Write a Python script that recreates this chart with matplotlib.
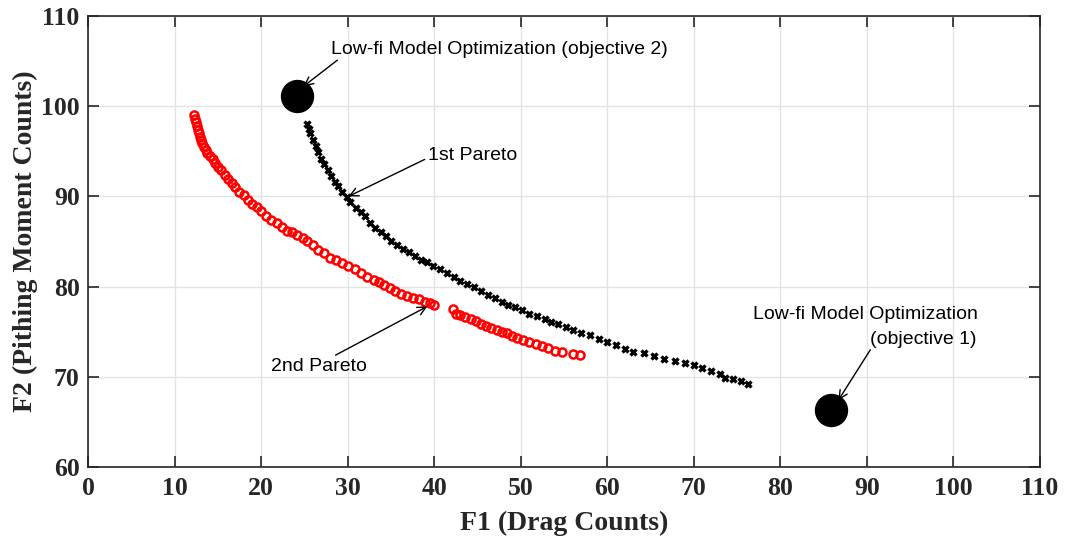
import matplotlib
matplotlib.use("Agg")
import matplotlib.pyplot as plt

# 2nd Pareto front (red circles)
red_f1 = [12.3, 12.4, 12.5, 12.6, 12.7, 12.8, 12.9, 13.0, 13.2, 13.4, 13.6, 13.8,
          14.1, 14.4, 14.7, 15.0, 15.4, 15.8, 16.2, 16.6, 17.0, 17.5, 18.0, 18.5,
          19.0, 19.5, 20.0, 20.6, 21.2, 21.8, 22.4, 23.0, 23.6, 24.2, 24.8, 25.3,
          26.0, 26.6, 27.3, 28.0, 28.7, 29.4, 30.0, 30.8, 31.5, 32.2, 33.0, 33.6,
          34.2, 34.9, 35.5, 36.2, 36.8, 37.5, 38.2, 38.9, 39.5, 40.0,
          42.2, 42.5, 43.0, 43.6, 44.2, 44.8, 45.4, 46.0, 46.6, 47.2, 47.8, 48.4,
          49.0, 49.6, 50.3, 51.0, 51.8, 52.5, 53.2, 54.0, 54.8, 56.0, 56.8]
red_f2 = [99.0, 98.6, 98.2, 97.8, 97.4, 97.0, 96.6, 96.3, 95.9, 95.5, 95.1, 94.8,
          94.5, 94.1, 93.7, 93.3, 92.9, 92.4, 91.9, 91.5, 91.0, 90.5, 90.1, 89.6,
          89.2, 88.8, 88.4, 87.8, 87.4, 87.0, 86.6, 86.2, 86.0, 85.7, 85.4, 85.0,
          84.6, 84.1, 83.7, 83.2, 82.9, 82.6, 82.3, 81.9, 81.5, 81.1, 80.7, 80.5,
          80.2, 79.8, 79.5, 79.2, 79.0, 78.7, 78.6, 78.3, 78.2, 78.0,
          77.5, 77.0, 76.9, 76.6, 76.4, 76.2, 75.9, 75.6, 75.4, 75.2, 75.0, 74.8,
          74.5, 74.3, 74.1, 73.9, 73.6, 73.4, 73.2, 72.9, 72.8, 72.5, 72.4]

# 1st Pareto front (black crosses)
blk_f1 = [25.3, 25.5, 25.7, 26.0, 26.3, 26.6, 26.9, 27.3, 27.7, 28.1, 28.5, 28.9,
          29.4, 29.9, 30.3, 31.0, 31.5, 32.0, 32.6, 33.2, 33.8, 34.4, 35.0, 35.7,
          36.4, 37.1, 37.8, 38.5, 39.2, 39.9, 40.7, 41.5, 42.3, 43.0, 43.8, 44.6,
          45.4, 46.2, 47.0, 47.8, 48.5, 49.3, 50.1, 51.0, 51.9, 52.8, 53.5, 54.3,
          55.2, 56.0, 57.0, 58.0, 59.0, 60.0, 61.0, 62.0, 63.0, 64.2, 65.4, 66.5,
          67.8, 69.0, 70.0, 71.0, 72.0, 73.0, 73.6, 74.5, 75.5, 76.3]
blk_f2 = [98.0, 97.5, 97.0, 96.3, 95.6, 94.9, 94.2, 93.6, 92.9, 92.3, 91.6, 91.1,
          90.5, 89.9, 89.4, 88.7, 88.3, 87.8, 87.1, 86.5, 86.0, 85.6, 85.1, 84.6,
          84.2, 83.8, 83.4, 83.0, 82.7, 82.3, 81.9, 81.5, 81.1, 80.6, 80.3, 79.9,
          79.5, 79.1, 78.7, 78.3, 78.0, 77.7, 77.4, 77.0, 76.7, 76.4, 76.1, 75.8,
          75.5, 75.2, 74.9, 74.6, 74.2, 73.9, 73.5, 73.1, 72.8, 72.6, 72.3, 72.0,
          71.7, 71.5, 71.3, 71.0, 70.6, 70.3, 69.9, 69.8, 69.5, 69.2]

# low-fi single objective optima
lowfi_f1 = [24.1, 85.8]
lowfi_f2 = [101.1, 66.3]

fig = plt.figure(figsize=(10.67, 5.42), dpi=100)
ax = fig.add_axes([0.0825, 0.1384, 0.8922, 0.8321])

ax.plot(red_f1, red_f2, 'o', color='red', mfc='none', ms=5.8, mew=1.8)
ax.plot(blk_f1, blk_f2, 'x', color='black', ms=5, mew=2.4)
ax.plot(lowfi_f1, lowfi_f2, 'o', color='black', ms=23)

ax.set_xlim(0, 110)
ax.set_ylim(60, 110)
ax.set_xticks(range(0, 111, 10))
ax.set_yticks(range(60, 111, 10))
ax.grid(True, color='#e3e3e3', linewidth=1)
ax.set_axisbelow(True)
ax.tick_params(direction='in', length=8, width=1.2, top=True, right=True,
               labelsize=18.5, colors='#262626')
ax.tick_params(axis='x', pad=7)
ax.tick_params(axis='y', pad=6)
for lab in ax.get_xticklabels() + ax.get_yticklabels():
    lab.set_family('Liberation Serif')
    lab.set_weight('bold')
for s in ax.spines.values():
    s.set_color('#262626')
    s.set_linewidth(1.2)

lbl = dict(family='Liberation Serif', weight='bold', size=20, color='#262626')
ax.set_xlabel('F1 (Drag Counts)', labelpad=8, **lbl)
ax.set_ylabel('F2 (Pithing Moment Counts)', labelpad=2, **lbl)

ann = dict(family='Liberation Sans', size=14, color='black', va='center', ha='left')
arr = dict(arrowstyle='->', color='black', lw=1, mutation_scale=15, shrinkA=0, shrinkB=0)
ax.text(28.1, 106.3, 'Low-fi Model Optimization (objective 2)', **ann)
ax.annotate('', xy=(24.9, 102.2), xytext=(28.8, 105.1), arrowprops=arr)
ax.text(39.3, 94.5, '1st Pareto', **ann)
ax.annotate('', xy=(30.1, 90.0), xytext=(38.9, 94.1), arrowprops=arr)
ax.text(21.1, 71.1, '2nd Pareto', **ann)
ax.annotate('', xy=(39.2, 77.8), xytext=(28.6, 72.4), arrowprops=arr)
ax.text(76.8, 76.9, 'Low-fi Model Optimization', **ann)
ax.text(90.4, 74.1, '(objective 1)', **ann)
ax.annotate('', xy=(86.7, 67.4), xytext=(90.4, 73.0), arrowprops=arr)

fig.savefig('out.png', dpi=100)
